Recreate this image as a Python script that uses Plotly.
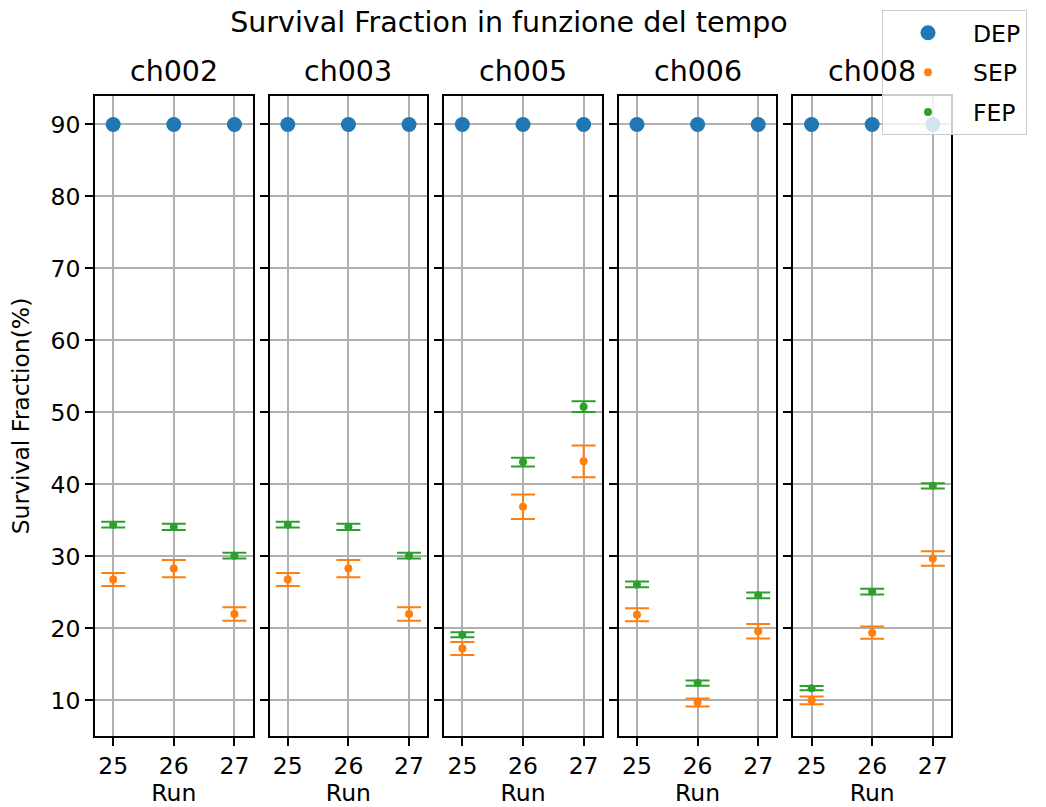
import plotly.graph_objects as go

channels = ["ch002", "ch003", "ch005", "ch006", "ch008"]
runs = [25, 26, 27]

dep = {c: [90, 90, 90] for c in channels}

sep_vals = {
    "ch002": [26.8, 28.3, 22.0],
    "ch003": [26.8, 28.3, 22.0],
    "ch005": [17.2, 36.9, 43.2],
    "ch006": [21.9, 9.7, 19.6],
    "ch008": [10.0, 19.4, 29.7],
}
sep_err = {
    "ch002": [0.9, 1.2, 0.95],
    "ch003": [0.9, 1.2, 0.95],
    "ch005": [0.9, 1.7, 2.2],
    "ch006": [0.9, 0.55, 1.0],
    "ch008": [0.55, 0.85, 1.0],
}
fep_vals = {
    "ch002": [34.4, 34.1, 30.1],
    "ch003": [34.4, 34.1, 30.1],
    "ch005": [19.1, 43.1, 50.8],
    "ch006": [26.1, 12.4, 24.6],
    "ch008": [11.7, 25.1, 39.8],
}
fep_err = {
    "ch002": [0.4, 0.45, 0.4],
    "ch003": [0.4, 0.45, 0.4],
    "ch005": [0.35, 0.6, 0.75],
    "ch006": [0.4, 0.37, 0.4],
    "ch008": [0.3, 0.4, 0.37],
}

C_DEP, C_SEP, C_FEP = "#1f77b4", "#ff7f0e", "#2ca02c"
FONT = "DejaVu Sans"
W, H = 1046, 807
ML, MR, MT, MB = 95, 94, 96, 71
PW = W - ML - MR
STEP, PANEL = 174.6, 157.6

fig = go.Figure()

for i, ch in enumerate(channels):
    n = "" if i == 0 else str(i + 1)
    xa, ya = "x" + n, "y" + n
    show = i == 0
    fig.add_trace(go.Scatter(
        x=runs, y=dep[ch], mode="markers", name="DEP", legendgroup="DEP",
        showlegend=show, xaxis=xa, yaxis=ya,
        marker=dict(color=C_DEP, size=15)))
    fig.add_trace(go.Scatter(
        x=runs, y=sep_vals[ch], mode="markers", name="SEP", legendgroup="SEP",
        showlegend=show, xaxis=xa, yaxis=ya,
        marker=dict(color=C_SEP, size=8),
        error_y=dict(type="data", array=sep_err[ch], color=C_SEP,
                     thickness=2, width=12)))
    fig.add_trace(go.Scatter(
        x=runs, y=fep_vals[ch], mode="markers", name="FEP", legendgroup="FEP",
        showlegend=show, xaxis=xa, yaxis=ya,
        marker=dict(color=C_FEP, size=8),
        error_y=dict(type="data", array=fep_err[ch], color=C_FEP,
                     thickness=2, width=12)))

    x0 = (STEP * i) / PW
    x1 = min(1.0, (STEP * i + PANEL) / PW)
    axis_common = dict(
        showgrid=True, gridcolor="#b0b0b0", gridwidth=1.9,
        showline=True, linecolor="black", linewidth=1.9, mirror=True,
        ticks="outside", ticklen=8, tickwidth=1.9, tickcolor="black",
        zeroline=False,
        tickfont=dict(family=FONT, size=23.5, color="black"),
    )
    fig.update_layout(**{
        "xaxis" + n: dict(
            domain=[x0, x1], range=[24.7, 27.3],
            tickvals=runs, ticktext=[str(r) for r in runs],
            title=dict(text="Run", font=dict(family=FONT, size=23.5, color="black"),
                       standoff=6),
            anchor=ya, **axis_common),
        "yaxis" + n: dict(
            domain=[0, 1], range=[5.05, 93.95],
            tickvals=[10, 20, 30, 40, 50, 60, 70, 80, 90],
            showticklabels=(i == 0),
            anchor=xa, **axis_common,
            **({"title": dict(text="Survival Fraction(%)",
                              font=dict(family=FONT, size=23.5, color="black"),
                              standoff=14)} if i == 0 else {})),
    })
    fig.add_annotation(
        text=ch, x=(x0 + x1) / 2, y=1, xref="paper", yref="paper",
        xanchor="center", yanchor="bottom", yshift=6, showarrow=False,
        font=dict(family=FONT, size=28.5, color="black"))

fig.update_layout(
    width=W, height=H,
    margin=dict(l=ML, r=MR, t=MT, b=MB, autoexpand=False),
    plot_bgcolor="white", paper_bgcolor="white",
    title=dict(text="Survival Fraction in funzione del tempo",
               x=509 / W, xanchor="center", y=1 - 22 / H, yanchor="middle",
               xref="container", yref="container",
               font=dict(family=FONT, size=28.5, color="black")),
    legend=dict(x=(882 - ML) / PW, y=(H - MB - 10) / (H - MT - MB),
                xanchor="left", yanchor="top",
                bgcolor="rgba(255,255,255,0.8)", bordercolor="#cccccc",
                borderwidth=1, itemwidth=80, traceorder="grouped",
                tracegroupgap=6,
                font=dict(family=FONT, size=23.5, color="black")),
)

fig.write_html("out.html")
